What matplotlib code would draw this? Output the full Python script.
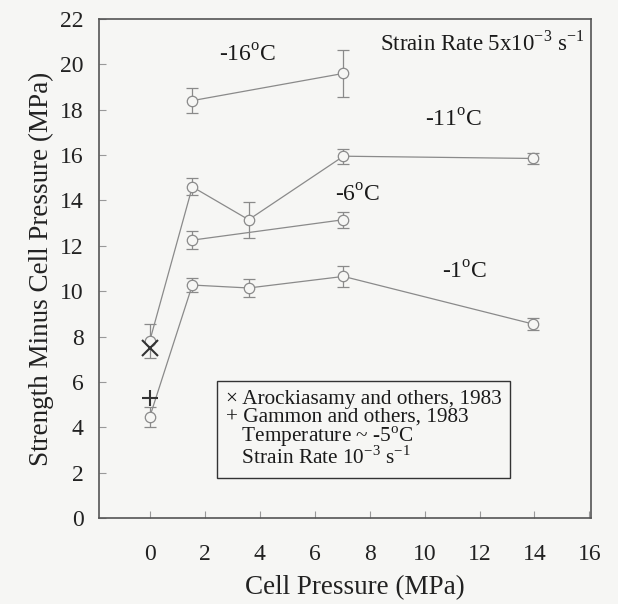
import matplotlib
matplotlib.use("Agg")
import matplotlib.pyplot as plt
import numpy as np

# Data
x_m16 = [1.55, 7.05]
y_m16 = [18.4, 19.6]
e_m16 = [0.55, 1.05]

x_m11 = [0.0, 1.55, 3.6, 7.05, 13.95]
y_m11 = [7.8, 14.6, 13.15, 15.95, 15.85]
e_m11 = [0.75, 0.38, 0.8, 0.33, 0.25]

x_m6 = [1.55, 7.05]
y_m6 = [12.25, 13.15]
e_m6 = [0.4, 0.36]

x_m1 = [0.0, 1.55, 3.6, 7.05, 13.95]
y_m1 = [4.45, 10.27, 10.14, 10.65, 8.55]
e_m1 = [0.45, 0.3, 0.4, 0.46, 0.26]

aro_x, aro_y = [0.0], [7.5]
gam_x, gam_y = [0.0], [5.3]

series_labels = ["-16$^{\\rm o}$C", "-11$^{\\rm o}$C", "-6$^{\\rm o}$C", "-1$^{\\rm o}$C"]
xticks = [0, 2, 4, 6, 8, 10, 12, 14, 16]
yticks = [0, 2, 4, 6, 8, 10, 12, 14, 16, 18, 20, 22]

plt.rcParams['font.family'] = ['Liberation Serif', 'DejaVu Serif']
plt.rcParams['mathtext.fontset'] = 'custom'
plt.rcParams['mathtext.rm'] = 'Liberation Serif'
plt.rcParams['axes.unicode_minus'] = False

bg = '#f6f6f4'
fig = plt.figure(figsize=(6.18, 6.04), dpi=100, facecolor=bg)
ax = fig.add_axes([0.160, 0.1424, 0.796, 0.8262], facecolor=bg)

lc = '#8a8a8a'
for xs, ys, es in [(x_m16, y_m16, e_m16), (x_m11, y_m11, e_m11),
                   (x_m6, y_m6, e_m6), (x_m1, y_m1, e_m1)]:
    ax.errorbar(xs, ys, yerr=es, color=lc, lw=0.9, elinewidth=0.9,
                capsize=4, capthick=0.9, marker='o', ms=7.5,
                mfc=bg, mec=lc, mew=0.9, zorder=2)

ax.plot(aro_x, aro_y, 'x', color='#333333', ms=11, mew=1.5, zorder=3)
ax.plot(gam_x, gam_y, '+', color='#333333', ms=12, mew=1.5, zorder=3)

ax.set_xlim(-1.85, 16.05)
ax.set_ylim(0, 22)
ax.set_xticks(xticks, labels=[str(t) for t in xticks])
ax.set_yticks(yticks, labels=[str(t) for t in yticks])
ax.tick_params(direction='in', length=5, width=0.8, colors='#999999',
               labelcolor='#222222', labelsize=17)
ax.tick_params(axis='x', pad=19)
ax.tick_params(axis='y', pad=11)
for s in ax.spines.values():
    s.set_color('#555555')
    s.set_linewidth(1.2)

ax.set_xlabel('Cell Pressure (MPa)', fontsize=19.5, color='#222222', labelpad=8)
ax.xaxis.set_label_coords(0.52, -0.115)
ax.set_ylabel('Strength Minus Cell Pressure (MPa)', fontsize=19.5, color='#222222', labelpad=4)

tc = '#1a1a1a'
ax.text(3.57, 20.4, series_labels[0], fontsize=17, color=tc, ha='center', va='center')
ax.text(11.07, 17.5, series_labels[1], fontsize=17, color=tc, ha='center', va='center')
ax.text(7.57, 14.2, series_labels[2], fontsize=17, color=tc, ha='center', va='center')
ax.text(11.47, 10.8, series_labels[3], fontsize=17, color=tc, ha='center', va='center')
ax.text(12.1, 20.95, 'Strain Rate 5x10$^{-3}$ s$^{-1}$', fontsize=16.5, color=tc,
        ha='center', va='center')

legend_text = ("\u00d7 Arockiasamy and others, 1983\n"
               "+ Gammon and others, 1983\n"
               "   Temperature ~ -5$^{\\rm o}$C\n"
               "   Strain Rate 10$^{-3}$ s$^{-1}$")
ax.text(2.76, 3.9, legend_text, fontsize=15.3, color=tc, ha='left', va='center',
        linespacing=0.88,
        bbox=dict(boxstyle='square,pad=0.4', fc=bg, ec='#333333', lw=1.0))

fig.savefig('out.png', dpi=100, facecolor=bg)
